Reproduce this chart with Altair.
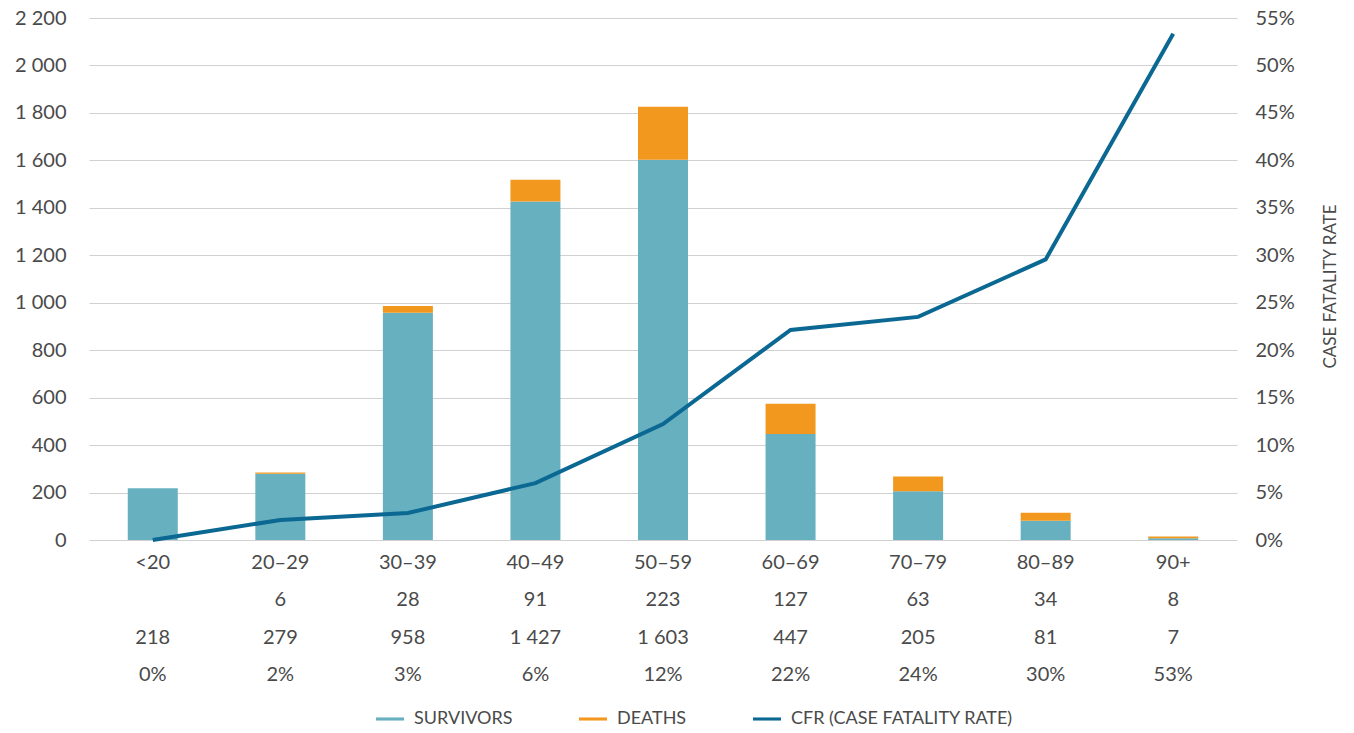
import altair as alt
import pandas as pd

# ---- data ----
ages = ["<20", "20–29", "30–39", "40–49", "50–59", "60–69", "70–79", "80–89", "90+"]
survivors = [218, 279, 958, 1427, 1603, 447, 205, 81, 7]
deaths = [0, 6, 28, 91, 223, 127, 63, 34, 8]
left_ticks = list(range(0, 2201, 200))
right_ticks = [i * 0.05 for i in range(12)]
series = ["SURVIVORS", "DEATHS", "CFR (CASE FATALITY RATE)"]
colors = ["#67b0c0", "#f3981f", "#0b6892"]


def fmt(v):
    return f"{v:,}".replace(",", " ")


cfr = [d / (d + s) for d, s in zip(deaths, survivors)]
df = pd.DataFrame({
    "age": ages,
    "SURVIVORS": survivors,
    "DEATHS": deaths,
    "cfr": cfr,
    "deaths_lbl": [fmt(d) if d else "" for d in deaths],
    "surv_lbl": [fmt(s) for s in survivors],
    "cfr_lbl": [f"{round(c * 100):.0f}%" for c in cfr],
})

FONT = "Lato"
TXT = "#4a4a4a"
GRID = "#d0d0d0"

base = alt.Chart(df)

x = alt.X(
    "age:N",
    sort=ages,
    scale=alt.Scale(paddingInner=0.608, paddingOuter=0.304),
    axis=alt.Axis(title=None, labelAngle=0, domain=False, ticks=False,
                  labelPadding=12, labelFontSize=20, labelColor=TXT,
                  labelFont=FONT, grid=False),
)

bars = (
    base.transform_fold(["SURVIVORS", "DEATHS"], as_=["key", "value"])
    .transform_calculate(ord="datum.key == 'SURVIVORS' ? 0 : 1")
    .mark_bar()
    .encode(
        x=x,
        y=alt.Y(
            "value:Q",
            stack="zero",
            scale=alt.Scale(domain=[0, 2200], nice=False),
            axis=alt.Axis(
                title=None, values=left_ticks, grid=True, gridColor=GRID,
                gridWidth=1.2, domain=False, ticks=False, labelPadding=23,
                labelFontSize=20, labelColor=TXT, labelFont=FONT,
                labelExpr="replace(format(datum.value, ','), ',', ' ')",
            ),
        ),
        color=alt.Color(
            "key:N",
            scale=alt.Scale(domain=series, range=colors),
            legend=alt.Legend(
                title=None, orient="none", legendX=287, legendY=687,
                direction="horizontal",
                symbolType="M-1,-0.11L1,-0.11L1,0.11L-1,0.11Z",
                symbolSize=784, symbolStrokeWidth=0, symbolOpacity=1,
                labelFontSize=18, labelFont=FONT, labelColor=TXT,
                labelLimit=0, columnPadding=66, labelOffset=10, padding=0,
            ),
        ),
        order=alt.Order("ord:Q", sort="ascending"),
    )
)

line = base.mark_line(color=colors[2], strokeWidth=4).encode(
    x=x,
    y=alt.Y(
        "cfr:Q",
        scale=alt.Scale(domain=[0, 0.55], nice=False),
        axis=alt.Axis(
            orient="right", format=".0%", values=right_ticks, grid=False,
            domain=False, ticks=False, labelPadding=18, labelFontSize=20,
            labelColor=TXT, labelFont=FONT,
            title="CASE FATALITY RATE", titleAngle=270, titleX=93,
            titleY=268, titleFontSize=17, titleFontWeight="normal",
            titleColor=TXT, titleFont=FONT, titleBaseline="middle",
        ),
    ),
)


def row(field, ypos):
    return base.mark_text(font=FONT, fontSize=20, color=TXT,
                          baseline="middle").encode(
        x=x, y=alt.value(ypos), text=f"{field}:N")


chart = (
    alt.layer(bars, line, row("deaths_lbl", 582), row("surv_lbl", 620),
              row("cfr_lbl", 657))
    .resolve_scale(y="independent")
    .properties(
        width=1148, height=522,
        autosize=alt.AutoSizeParams(type="none"),
        padding={"left": 89, "top": 18, "right": 117, "bottom": 193},
        background="white",
    )
    .configure_view(stroke=None)
)

chart.save("out.html", embed_options={"renderer": "svg", "actions": False})
